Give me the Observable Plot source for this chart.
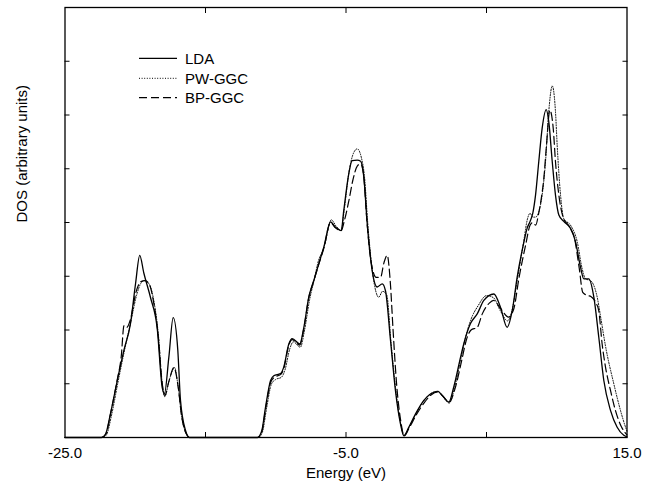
<!DOCTYPE html>
<html><head><meta charset="utf-8">
<script src="https://cdn.jsdelivr.net/npm/d3@7"></script>
<script src="https://cdn.jsdelivr.net/npm/@observablehq/plot@0.6"></script>
<style>body{margin:0;background:#fff;}</style>
</head><body><div id="chart"></div>
<script>
const seriesNames = ["LDA", "PW-GGC", "BP-GGC"];
const energyLDA = [-25, -22.4, -22.12, -21.76, -21.28, -20.81, -20.34, -19.98, -19.68, -19.39, -18.91, -18.44, -18.08, -17.92, -17.61, -17.30, -16.97, -16.78, -16.42, -16.15, -11.3, -11.0, -10.73, -10.37, -10.14, -9.66, -9.43, -9.07, -8.83, -8.29, -8.0, -7.65, -7.29, -6.94, -6.58, -6.10, -5.75, -5.34, -5.16, -4.80, -4.56, -4.20, -3.96, -3.73, -3.49, -3.14, -2.78, -2.42, -2.19, -1.83, -1.48, -1.12, -0.89, -0.53, -0.05, 0.54, 1.01, 1.53, 1.85, 2.32, 2.67, 3.15, 3.38, 3.86, 4.34, 4.81, 5.52, 6.0, 6.47, 6.83, 7.18, 7.65, 7.9, 8.1, 8.3, 8.49, 8.72, 8.96, 9.25, 9.43, 9.68, 9.91, 10.15, 10.5, 10.98, 11.33, 11.69, 11.93, 12.28, 12.64, 12.99, 13.35, 13.83, 14.30, 14.77, 15];
const dosLDA = [0, 0, 0.06, 0.45, 1.06, 1.62, 2.12, 2.86, 3.39, 3.06, 2.60, 2.04, 0.93, 0.82, 1.49, 2.23, 1.62, 0.69, 0.13, 0, 0, 0.12, 0.56, 1.06, 1.15, 1.19, 1.31, 1.74, 1.84, 1.74, 2.05, 2.61, 2.92, 3.23, 3.54, 4.01, 3.91, 3.85, 4.22, 4.91, 5.15, 5.16, 5.14, 4.84, 3.98, 3.11, 2.80, 2.86, 2.73, 1.80, 0.87, 0.25, 0.03, 0.19, 0.44, 0.69, 0.81, 0.86, 0.78, 0.66, 0.94, 1.49, 1.74, 2.12, 2.30, 2.55, 2.67, 2.42, 2.05, 2.36, 2.98, 3.62, 3.9, 4.02, 4.18, 4.51, 5.13, 5.75, 6.1, 5.88, 5.13, 4.51, 4.14, 4.02, 3.89, 3.65, 3.17, 2.95, 2.95, 2.61, 1.87, 1.06, 0.50, 0.19, 0.04, 0.01];
const energyPW = [-25, -22.35, -22.05, -21.7, -21.25, -20.8, -20.34, -19.9, -19.6, -19.35, -19.0, -18.65, -18.35, -18.1, -17.9, -17.6, -17.2, -16.95, -16.7, -16.35, -16.1, -11.25, -10.95, -10.65, -10.3, -10.0, -9.6, -9.35, -9.0, -8.75, -8.25, -7.95, -7.6, -7.25, -6.95, -6.7, -6.5, -6.05, -5.7, -5.34, -5.12, -4.75, -4.45, -4.2, -3.9, -3.68, -3.45, -3.1, -2.67, -2.4, -2.1, -1.8, -1.45, -1.1, -0.86, -0.5, 0.0, 0.58, 1.05, 1.55, 1.9, 2.35, 2.7, 3.2, 3.45, 3.9, 4.4, 5.0, 5.5, 6.0, 6.5, 6.85, 7.2, 7.65, 7.9, 8.1, 8.3, 8.5, 8.72, 8.96, 9.2, 9.43, 9.68, 9.91, 10.03, 10.27, 10.5, 10.98, 11.45, 11.8, 12.05, 12.4, 12.88, 13.15, 13.47, 14.06, 14.54, 14.9, 15];
const dosPW = [0, 0, 0.05, 0.40, 1.0, 1.58, 2.12, 2.65, 2.87, 2.92, 2.85, 2.5, 1.9, 1.05, 0.76, 1.05, 1.30, 0.95, 0.4, 0.06, 0, 0, 0.1, 0.55, 1.0, 1.08, 1.12, 1.25, 1.65, 1.78, 1.68, 2.0, 2.55, 2.95, 3.3, 3.45, 3.6, 4.05, 3.93, 3.85, 4.25, 5.0, 5.3, 5.37, 5.2, 4.84, 3.98, 3.05, 2.61, 2.72, 2.65, 1.78, 0.87, 0.25, 0.03, 0.2, 0.45, 0.70, 0.82, 0.86, 0.76, 0.64, 0.9, 1.5, 1.8, 2.2, 2.45, 2.64, 2.6, 2.35, 2.17, 2.4, 2.95, 3.65, 4.05, 4.17, 4.1, 4.1, 4.2, 4.51, 5.13, 6.06, 6.54, 6.06, 5.44, 4.51, 4.07, 3.95, 3.65, 3.15, 2.95, 2.92, 2.61, 2.2, 1.7, 1.0, 0.5, 0.19, 0.12];
const energyBP = [-25, -22.4, -22.1, -21.75, -21.3, -21.0, -20.8, -20.6, -20.34, -19.95, -19.6, -19.3, -19.0, -18.65, -18.35, -18.1, -17.9, -17.6, -17.25, -16.95, -16.7, -16.35, -16.1, -11.3, -11.0, -10.73, -10.37, -10.1, -9.66, -9.43, -9.07, -8.83, -8.29, -8.0, -7.65, -7.29, -6.94, -6.58, -6.10, -5.75, -5.34, -5.1, -4.8, -4.5, -4.2, -3.95, -3.73, -3.52, -3.2, -2.85, -2.54, -2.3, -2.07, -1.85, -1.65, -1.4, -1.1, -0.86, -0.5, 0.0, 0.6, 1.05, 1.55, 1.9, 2.35, 2.75, 3.25, 3.55, 3.9, 4.34, 4.7, 5.2, 5.5, 6.0, 6.57, 6.95, 7.3, 7.8, 8.1, 8.3, 8.5, 8.7, 8.9, 9.08, 9.27, 9.51, 9.75, 9.91, 10.15, 10.45, 10.9, 11.25, 11.6, 11.85, 12.1, 12.45, 12.8, 12.99, 13.23, 13.47, 13.83, 14.18, 14.6, 15];
const dosBP = [0, 0, 0.06, 0.45, 1.05, 1.5, 2.08, 2.05, 2.2, 2.7, 2.9, 2.92, 2.85, 2.45, 1.85, 1.05, 0.78, 1.05, 1.30, 0.95, 0.4, 0.06, 0, 0, 0.1, 0.52, 1.02, 1.12, 1.17, 1.28, 1.72, 1.82, 1.72, 2.03, 2.6, 2.92, 3.22, 3.52, 4.0, 3.9, 3.85, 4.05, 4.4, 4.8, 5.05, 5.09, 4.84, 4.05, 3.25, 2.98, 2.98, 3.25, 3.39, 2.9, 2.0, 1.0, 0.3, 0.03, 0.18, 0.42, 0.66, 0.79, 0.85, 0.77, 0.66, 0.9, 1.45, 1.8, 2.0, 2.05, 2.3, 2.5, 2.55, 2.4, 2.24, 2.4, 2.95, 3.6, 3.95, 4.0, 3.95, 4.15, 4.45, 4.82, 5.44, 6.09, 5.75, 5.13, 4.51, 4.1, 3.92, 3.72, 3.15, 2.7, 2.65, 2.62, 2.5, 2.36, 1.74, 1.31, 0.87, 0.5, 0.2, 0.05];
const xTickLabels = [-25, -5, 15];
const xInnerTicks = [-15, -5, 5];
const yInnerTicks = [1, 2, 3, 4, 5, 6, 7];
const xLabel = "Energy (eV)";
const yLabel = "DOS (arbitrary units)";

const font = "'Liberation Sans', Arial, Helvetica, sans-serif";
const styles = [
  {stroke: "#000", strokeWidth: 1.3, strokeDasharray: null},
  {stroke: "#000", strokeWidth: 1, strokeDasharray: "1,1.6"},
  {stroke: "#000", strokeWidth: 1.2, strokeDasharray: "8,4"}
];
const series = [[energyLDA, dosLDA], [energyPW, dosPW], [energyBP, dosBP]];

const lineMarks = series.map(([ex, dy], k) => {
  const idx = d3.range(Math.min(ex.length, dy.length));
  return Plot.line(idx, {
    x: i => ex[i], y: i => dy[i], curve: "monotone-x",
    stroke: styles[k].stroke, strokeWidth: styles[k].strokeWidth,
    strokeDasharray: styles[k].strokeDasharray
  });
});

const chart = Plot.plot({
  width: 659, height: 485,
  marginLeft: 64.5, marginRight: 32.5, marginTop: 7, marginBottom: 48,
  style: {fontFamily: font, fontSize: "15px", color: "#000", background: "#fff"},
  x: {domain: [-25, 15]},
  y: {domain: [0, 8]},
  marks: [
    ...lineMarks,
    Plot.frame({stroke: "#000", strokeWidth: 1.3}),
    Plot.axisX(xTickLabels, {tickSize: 0, tickPadding: 10, tickFormat: d => d.toFixed(1), label: null, fontSize: 15}),
    Plot.axisX(xInnerTicks, {anchor: "bottom", tickSize: 5, dy: -5, tickFormat: () => "", label: null}),
    Plot.axisX(xInnerTicks, {anchor: "top", tickSize: 5, dy: 5, tickFormat: () => "", label: null}),
    Plot.axisY(yInnerTicks, {anchor: "left", tickSize: 5, dx: 5, tickFormat: () => "", label: null}),
    Plot.axisY(yInnerTicks, {anchor: "right", tickSize: 5, dx: -5, tickFormat: () => "", label: null}),
    Plot.text([xLabel], {frameAnchor: "bottom", lineAnchor: "top", dy: 30, fontSize: 15}),
    Plot.text([yLabel], {frameAnchor: "left", rotate: -90, dx: -43, fontSize: 15})
  ]
});

// Legend (inside plot area, top-left)
const svg = d3.select(chart);
const lg = svg.append("g").attr("font-family", font).attr("font-size", 15).attr("text-anchor", "start");
const legendY = [58.3, 78.3, 97.7];
seriesNames.forEach((name, k) => {
  lg.append("line")
    .attr("x1", 139).attr("x2", 177).attr("y1", legendY[k]).attr("y2", legendY[k])
    .attr("stroke", styles[k].stroke).attr("stroke-width", styles[k].strokeWidth)
    .attr("stroke-dasharray", styles[k].strokeDasharray);
  lg.append("text").attr("x", 185).attr("y", legendY[k]).attr("dy", "0.36em")
    .attr("text-anchor", "start").attr("fill", "#000").text(name);
});
document.getElementById("chart").appendChild(chart);
</script>
</body></html>
